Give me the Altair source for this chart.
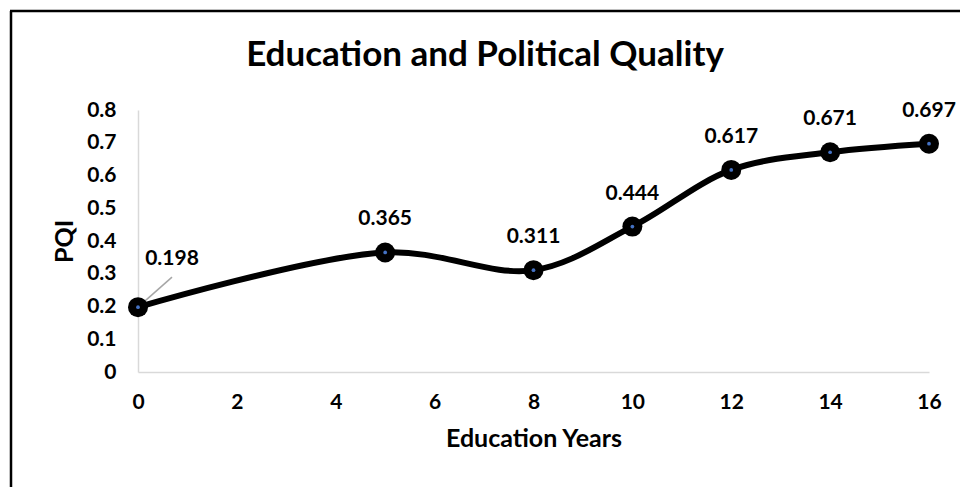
import altair as alt
import pandas as pd

# Education years vs. political quality index
years = [0, 5, 8, 10, 12, 14, 16]
pqi = [0.198, 0.365, 0.311, 0.444, 0.617, 0.671, 0.697]
x_ticks = [0, 2, 4, 6, 8, 10, 12, 14, 16]
y_ticks = [0, 0.1, 0.2, 0.3, 0.4, 0.5, 0.6, 0.7, 0.8]
chart_title = "Education and Political Quality"

FONT = "Lato"
W, H = 791, 262
PAD = {"left": 138, "top": 110, "right": 31, "bottom": 115}

df = pd.DataFrame({"years": years, "pqi": pqi})
df["label"] = df["pqi"].map(lambda v: f"{v:.3f}")

x = alt.X(
    "years:Q",
    scale=alt.Scale(domain=[0, 16], nice=False, zero=False),
    axis=alt.Axis(
        values=x_ticks, title="Education Years", grid=False, ticks=False,
        domainColor="#D9D9D9", domainWidth=1.5,
        labelFont=FONT, labelFontSize=21, labelFontWeight="bold", labelColor="#000000",
        labelPadding=19, titleFont=FONT, titleFontSize=25, titleFontWeight="bold",
        titleColor="#000000", titlePadding=14, labelFlush=False,
    ),
)
y = alt.Y(
    "pqi:Q",
    scale=alt.Scale(domain=[0, 0.8], nice=False),
    axis=alt.Axis(
        values=y_ticks, format=".1~f", title="PQI", grid=False, ticks=False,
        domainColor="#D9D9D9", domainWidth=1.5,
        labelFont=FONT, labelFontSize=21, labelFontWeight="bold", labelColor="#000000",
        labelPadding=22, titleFont=FONT, titleFontSize=25, titleFontWeight="bold",
        titleColor="#000000", titlePadding=9,
    ),
)

base = alt.Chart(df)

line = base.mark_line(color="#000000", strokeWidth=6, interpolate="catmull-rom").encode(x=x, y=y)
markers = base.mark_circle(color="#000000", size=400, opacity=1).encode(x=x, y=y)
centers = base.mark_circle(color="#4472C4", size=14, opacity=1).encode(x=x, y=y)

labels = base.transform_filter(alt.datum.years > 0).mark_text(
    font=FONT, fontSize=21, fontWeight="bold", color="#000000", dy=-33
).encode(x=x, y=y, text="label:N")

first = base.transform_filter(alt.datum.years == 0)
leader = first.mark_rule(color="#A6A6A6", strokeWidth=1.5, x2Offset=34, y2Offset=-30).encode(
    x=x, y=y, x2="years:Q", y2="pqi:Q"
)
first_label = first.mark_text(
    font=FONT, fontSize=21, fontWeight="bold", color="#000000", dx=34, dy=-48
).encode(x=x, y=y, text="label:N")

# Chart heading, centred on the outer frame
frame_df = pd.DataFrame({"title": [chart_title]})
heading = alt.Chart(frame_df).mark_text(
    font=FONT, fontSize=35, fontWeight="bold", color="#000000", baseline="middle", align="center"
).encode(x=alt.value(347), y=alt.value(-55), text="title:N")

# Outer frame of the chart area (left and top edges)
frame_left = alt.Chart(frame_df).mark_rule(color="#000000", strokeWidth=2.5).encode(
    x=alt.value(-127), y=alt.value(-99), y2=alt.value(H + PAD["bottom"])
)
frame_top = alt.Chart(frame_df).mark_rule(color="#000000", strokeWidth=2.5).encode(
    x=alt.value(-128), x2=alt.value(W + PAD["right"]), y=alt.value(-99)
)

chart = (
    alt.layer(leader, line, markers, centers, labels, first_label, heading, frame_left, frame_top)
    .properties(
        width=W,
        height=H,
        padding=PAD,
        autosize=alt.AutoSizeParams(type="none"),
        background="#FFFFFF",
    )
    .configure_view(stroke=None)
)

chart.save("out.html", embed_options={"renderer": "svg", "actions": False})
